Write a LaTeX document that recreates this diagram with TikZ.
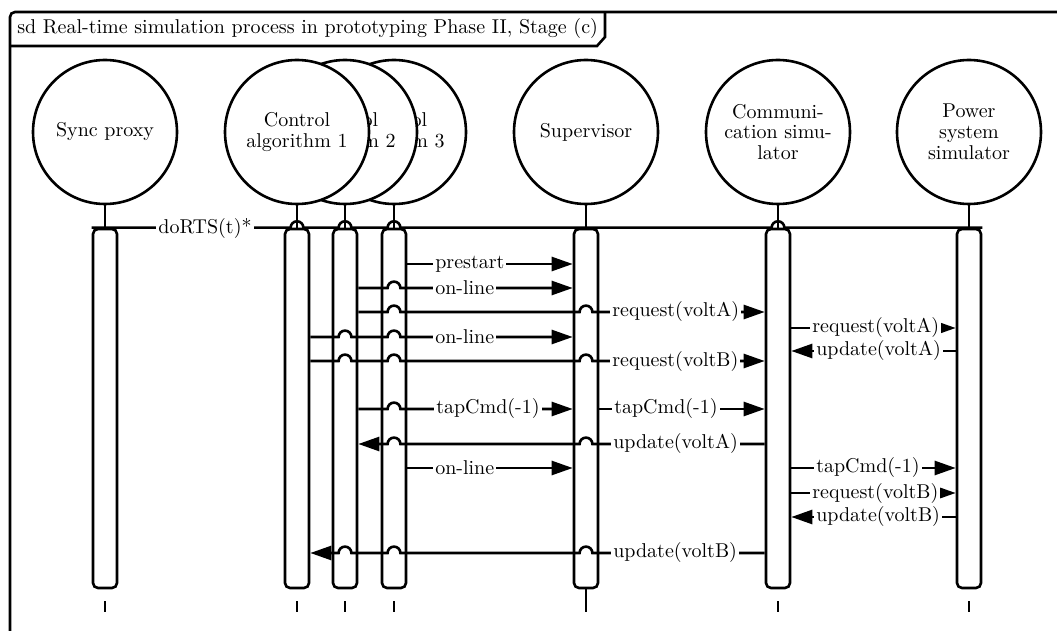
\documentclass[tikz,border=0pt]{standalone}
\usetikzlibrary{arrows.meta,calc}

% small semicircular hop over a lifeline, for messages running right / left
\newcommand\hopR[2]{-- ($(#1 |- #2)+(-3.2pt,0)$) arc[start angle=180,end angle=0,radius=3.2pt]}
\newcommand\hopL[2]{-- ($(#1 |- #2)+(3.2pt,0)$) arc[start angle=0,end angle=180,radius=3.2pt]}

\begin{document}
\begin{tikzpicture}[x=0.5pt,y=-0.5pt,line width=1.3pt,
  head/.style={circle,draw,fill=white,minimum size=72pt,inner sep=0pt,align=center,
    font=\fontsize{10}{10.4}\selectfont},
  act/.style={draw,fill=white,rounded corners=2.5pt,minimum width=12pt,
    minimum height=179.5pt,inner sep=0pt},
  msg/.style={-{Triangle[length=10.5pt,width=7pt]}},
  lbl/.style={fill=white,inner sep=1pt},
  tick/.style={line width=1.3pt}]
\useasboundingbox (0,0) rectangle (1057,631);
\clip (0,0) rectangle (1057,631);

% frame and its name tab
\draw[rounded corners=2.5pt] (10,700) -- (10,12) -- (1100,12);
\draw (10,46) -- (597,46) -- (605,37) -- (605,12);
\node[anchor=west,inner sep=3pt] (title) at (10,29)
  {sd Real-time simulation process in prototyping Phase II, Stage (c)};

% lifeline heads
\node[head] (c3) at (394,132) {Control\\algorithm 3};
\node[head] (c2) at (345,132) {Control\\algorithm 2};
\node[head] (c1) at (297,132) {Control\\algorithm 1};
\node[head] (sp) at (105,132) {Sync proxy};
\node[head] (sv) at (586,132) {Supervisor};
\node[head] (cs) at (778,132) {Communi-\\cation simu-\\lator};
\node[head] (ps) at (969,132) {Power\\system\\simulator};

% activation bars
\coordinate (mid) at (0,408.5);
\foreach \h in {sp,c1,c2,c3,sv,cs,ps}{
  \draw (\h.south) -- ++(0,-12.5pt);
  \node[act] (b\h) at (\h |- mid) {};
}

% message rows
\coordinate (r1) at (0,264);
\coordinate (r2) at (0,288);
\coordinate (r3) at (0,312);
\coordinate (r4) at (0,328);
\coordinate (r5) at (0,337);
\coordinate (r6) at (0,351);
\coordinate (r7) at (0,361);
\coordinate (r8) at (0,409);
\coordinate (r9) at (0,444);
\coordinate (r10) at (0,468);
\coordinate (r11) at (0,493);
\coordinate (r12) at (0,517);
\coordinate (r13) at (0,553);

% synchronisation call
\draw (bsp.north west) \hopR{c1}{bsp.north} \hopR{c2}{bsp.north}
  \hopR{c3}{bsp.north} \hopR{cs}{bsp.north} -- (bps.north east);
\node[lbl] (m0) at (205,229) {doRTS(t)*};

% messages
\draw[msg] (bc3.east |- r1) -- (bsv.west |- r1);
\node[lbl,anchor=west] (m1) at (432,264) {prestart};

\draw[msg] (bc2.east |- r2) \hopR{c3}{r2} -- (bsv.west |- r2);
\node[lbl,anchor=west] (m2) at (432,288) {on-line};

\draw[msg] (bc2.east |- r3) \hopR{c3}{r3} \hopR{sv}{r3} -- (bcs.west |- r3);
\node[lbl,anchor=west] (m3) at (609,312) {request(voltA)};

\draw[msg] (bcs.east |- r4) -- (bps.west |- r4);
\node[lbl,anchor=west] (m4) at (809,328) {request(voltA)};

\draw[msg] (bc1.east |- r5) \hopR{c2}{r5} \hopR{c3}{r5} -- (bsv.west |- r5);
\node[lbl,anchor=west] (m5) at (432,337) {on-line};

\draw[msg] (bps.west |- r6) -- (bcs.east |- r6);
\node[lbl,anchor=west] (m6) at (813,351) {update(voltA)};

\draw[msg] (bc1.east |- r7) \hopR{c2}{r7} \hopR{c3}{r7} \hopR{sv}{r7} -- (bcs.west |- r7);
\node[lbl,anchor=west] (m7) at (609,361) {request(voltB)};

\draw[msg] (bc2.east |- r8) \hopR{c3}{r8} -- (bsv.west |- r8);
\node[lbl,anchor=west] (m8) at (433,409) {tapCmd(-1)};

\draw[msg] (bsv.east |- r8) -- (bcs.west |- r8);
\node[lbl,anchor=west] (m9) at (611,409) {tapCmd(-1)};

\draw[msg] (bcs.west |- r9) \hopL{sv}{r9} \hopL{c3}{r9} -- (bc2.east |- r9);
\node[lbl,anchor=west] (m10) at (610,444) {update(voltA)};

\draw[msg] (bc3.east |- r10) -- (bsv.west |- r10);
\node[lbl,anchor=west] (m11) at (432,468) {on-line};

\draw[msg] (bcs.east |- r10) -- (bps.west |- r10);
\node[lbl,anchor=west] (m12) at (813,468) {tapCmd(-1)};

\draw[msg] (bcs.east |- r11) -- (bps.west |- r11);
\node[lbl,anchor=west] (m13) at (809,493) {request(voltB)};

\draw[msg] (bps.west |- r12) -- (bcs.east |- r12);
\node[lbl,anchor=west] (m14) at (813,517) {update(voltB)};

\draw[msg] (bcs.west |- r13) \hopL{sv}{r13} \hopL{c3}{r13} \hopL{c2}{r13} -- (bc1.east |- r13);
\node[lbl,anchor=west] (m15) at (610,553) {update(voltB)};

% lifeline ends
\coordinate (k1) at (0,601);
\coordinate (k2) at (0,612);
\foreach \h in {sp,c1,c2,c3,cs,ps}{
  \draw[tick] (\h |- k1) -- (\h |- k2);
}
\draw[tick] (bsv.south) -- (sv |- k2);
\end{tikzpicture}
\end{document}
